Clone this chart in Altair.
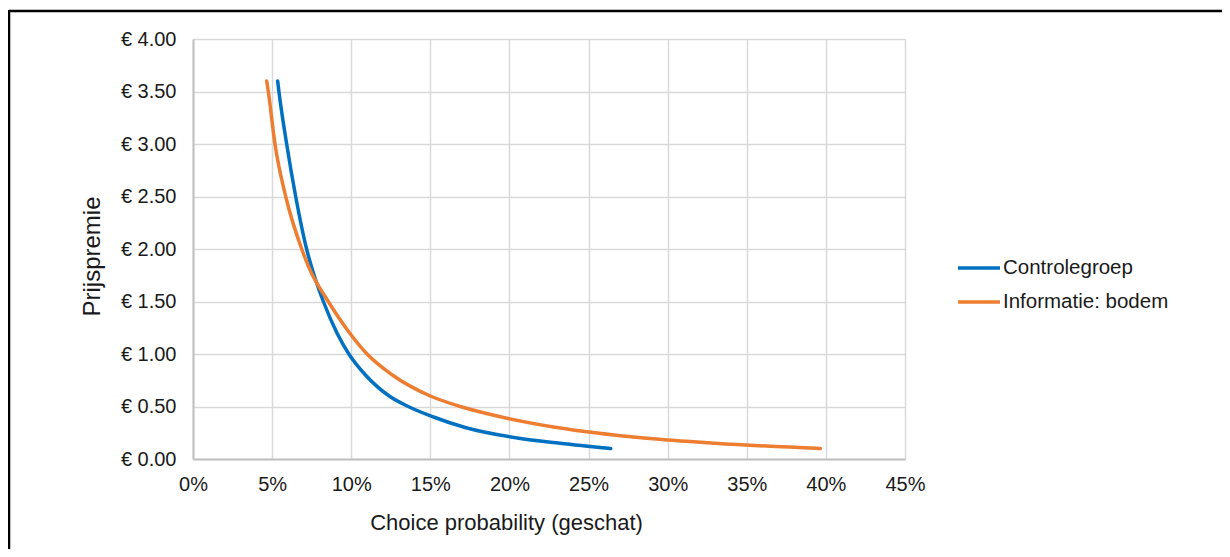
import altair as alt
import pandas as pd

# Price premium levels (EUR) and estimated choice probabilities
price_levels = [0.1, 0.15, 0.2, 0.3, 0.4, 0.5, 0.6, 0.8, 1.0, 1.2, 1.5, 1.8, 2.0, 2.5, 3.0, 3.5, 3.6]
controle = [0.264, 0.232, 0.205, 0.172, 0.152, 0.136, 0.124, 0.109, 0.0985, 0.091, 0.0824, 0.0755, 0.0718, 0.0649, 0.0592, 0.0543, 0.0535]
informatie = [0.3966, 0.330, 0.285, 0.230, 0.195, 0.169, 0.150, 0.126, 0.110, 0.099, 0.0855, 0.074, 0.0687, 0.0586, 0.0518, 0.0476, 0.0466]

series_names = ["Controlegroep", "Informatie: bodem"]
series_colors = ["#0070C0", "#ED7D31"]

x_ticks = [0, 0.05, 0.10, 0.15, 0.20, 0.25, 0.30, 0.35, 0.40, 0.45]
y_ticks = [0, 0.5, 1.0, 1.5, 2.0, 2.5, 3.0, 3.5, 4.0]

rows = []
for p, c, i in zip(price_levels, controle, informatie):
    rows.append({"prijs": p, "kans": c, "groep": series_names[0]})
    rows.append({"prijs": p, "kans": i, "groep": series_names[1]})
df = pd.DataFrame(rows)

FONT = "Liberation Sans"
TXT = "#1a1a1a"
W, H = 712, 420

lines = alt.Chart(df).mark_line(strokeWidth=3.5, strokeCap="round", interpolate="monotone").encode(
    x=alt.X("kans:Q",
            scale=alt.Scale(domain=[0, 0.45], nice=False),
            axis=alt.Axis(values=x_ticks, format=".0%", title="Choice probability (geschat)",
                          grid=True, gridColor="#d9d9d9", gridWidth=1.5,
                          domainColor="#bfbfbf", domainWidth=2, ticks=False, labelFlush=False,
                          labelFont=FONT, labelFontSize=20, labelColor=TXT, labelPadding=15,
                          titleFont=FONT, titleFontSize=22, titleFontWeight="normal", titleColor=TXT,
                          titleX=313, titlePadding=18)),
    y=alt.Y("prijs:Q",
            scale=alt.Scale(domain=[0, 4], nice=False),
            axis=alt.Axis(values=y_ticks, labelExpr="'€ ' + format(datum.value, '.2f')",
                          title="Prijspremie",
                          grid=True, gridColor="#d9d9d9", gridWidth=1.5,
                          domainColor="#bfbfbf", domainWidth=2, ticks=False, labelFlush=False,
                          labelFont=FONT, labelFontSize=20, labelColor=TXT, labelPadding=17,
                          titleFont=FONT, titleFontSize=24, titleFontWeight="normal", titleColor=TXT,
                          titleX=-101, titleY=217, titleAlign="center", titleBaseline="middle")),
    color=alt.Color("groep:N",
                    scale=alt.Scale(domain=series_names, range=series_colors),
                    legend=alt.Legend(title=None, orient="none", legendX=763, legendY=206,
                                      symbolType="stroke", symbolSize=1764, symbolStrokeWidth=3.5,
                                      labelFont=FONT, labelFontSize=20.5, labelColor=TXT,
                                      labelLimit=400, labelOffset=1, rowPadding=0, padding=0)),
    order=alt.Order("kans:Q", sort="ascending"),
)

# Outer frame of the figure (left and top edges visible)
frame_top = alt.Chart(pd.DataFrame({"k": [0]})).mark_rule(color="black", strokeWidth=2.5).encode(
    x=alt.value(-184), x2=alt.value(1030), y=alt.value(-28))
frame_left = alt.Chart(pd.DataFrame({"k": [0]})).mark_rule(color="black", strokeWidth=2.5).encode(
    x=alt.value(-184), y=alt.value(-29), y2=alt.value(520))

chart = alt.layer(lines, frame_top, frame_left).properties(
    width=W, height=H,
    autosize=alt.AutoSizeParams(type="none"),
    padding={"left": 185, "top": 31, "right": 317, "bottom": 90},
).configure_view(stroke=None)

chart.save("out.html", embed_options={"renderer": "svg", "actions": False})
